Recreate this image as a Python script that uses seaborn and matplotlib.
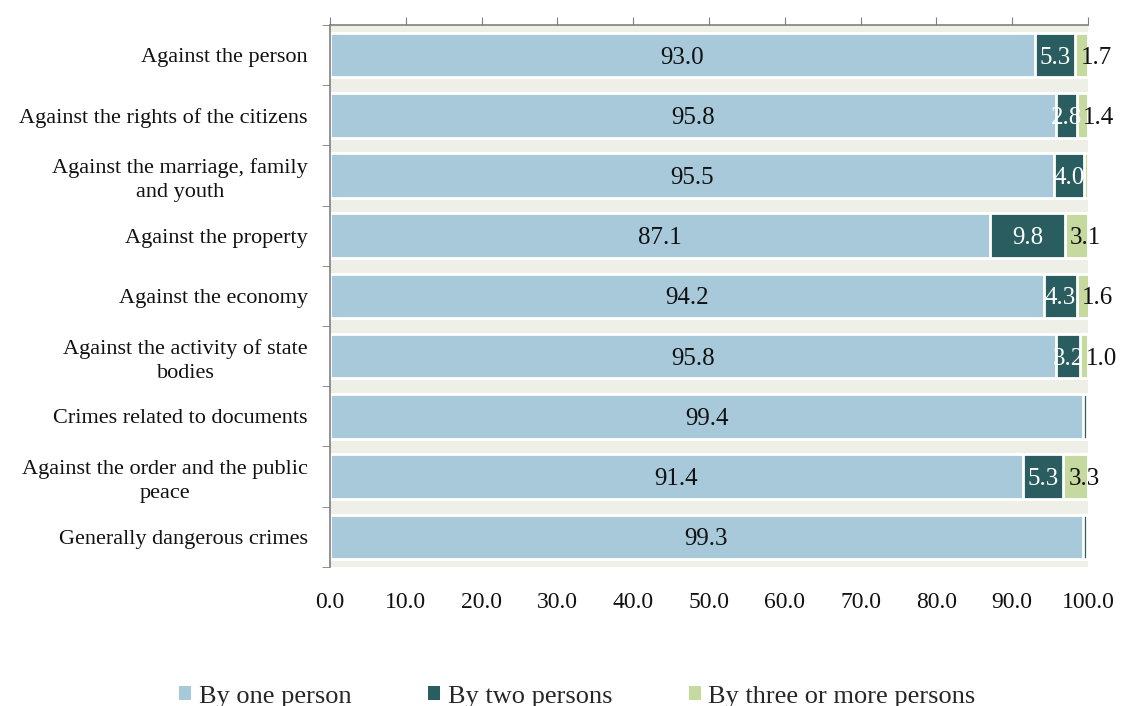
import matplotlib
matplotlib.use("Agg")
import matplotlib.pyplot as plt
import seaborn as sns
import pandas as pd
import numpy as np
from matplotlib.patches import Patch
from matplotlib.ticker import MultipleLocator, FixedLocator

categories = [
    "Against the person",
    "Against the rights of the citizens",
    "Against the marriage, family\nand youth",
    "Against the property",
    "Against the economy",
    "Against the activity of state\nbodies",
    "Crimes related to documents",
    "Against the order and the public\npeace",
    "Generally dangerous crimes",
]
one_person = [93.0, 95.8, 95.5, 87.1, 94.2, 95.8, 99.4, 91.4, 99.3]
two_persons = [5.3, 2.8, 4.0, 9.8, 4.3, 3.2, 0.4, 5.3, 0.5]
three_more = [1.7, 1.4, 0.5, 3.1, 1.6, 1.0, 0.2, 3.3, 0.2]
series_names = ["By one person", "By two persons", "By three or more persons"]
colors = ["#a7c9da", "#2a5d60", "#c6d99e"]

df = pd.DataFrame({"category": categories, "one": one_person,
                   "two": two_persons, "three": three_more})
df["cum1"] = df["one"]
df["cum2"] = df["one"] + df["two"]
df["cum3"] = df["cum2"] + df["three"]

sns.set_style("white")
plt.rcParams["font.family"] = ["Liberation Serif", "DejaVu Serif"]

fig = plt.figure(figsize=(11.21, 7.06), dpi=100)
ax = fig.add_axes([0.2944, 0.197, 0.9706 - 0.2944, 0.9646 - 0.197])
ax.set_facecolor("#eef0e7")

# stacked by drawing cumulative totals back to front
for col, c in [("cum3", colors[2]), ("cum2", colors[1]), ("cum1", colors[0])]:
    sns.barplot(data=df, x=col, y="category", color=c, orient="h",
                width=0.74, edgecolor="white", linewidth=2, ax=ax,
                saturation=1)

# value labels
for i, row in df.iterrows():
    ax.text(row["one"] / 2, i, f"{row['one']:.1f}", ha="center",
            va="center_baseline", fontsize=18, color="#111111")
    if row["two"] >= 1:
        ax.text(row["one"] + row["two"] / 2, i, f"{row['two']:.1f}",
                ha="center", va="center_baseline", fontsize=18, color="white")
    if row["three"] >= 1:
        ax.text(row["cum2"] + 0.7, i, f"{row['three']:.1f}",
                ha="left", va="center_baseline", fontsize=18, color="#111111")

ax.set_xlim(0, 100)
ax.set_ylim(len(categories) - 0.5, -0.5)
ax.xaxis.set_major_locator(MultipleLocator(10))
ax.set_xticklabels([f"{v:.1f}" for v in ax.get_xticks()])
ax.tick_params(axis="x", top=True, bottom=False, labeltop=False,
               labelbottom=True, direction="out", length=6, color="#808080",
               labelsize=17, labelcolor="#111111", pad=12)
ax.tick_params(axis="y", which="major", length=0, labelsize=16,
               labelcolor="#111111", pad=16)
ax.yaxis.set_minor_locator(FixedLocator(np.arange(-0.5, len(categories), 1)))
ax.tick_params(axis="y", which="minor", left=True, length=6,
               color="#808080", direction="out")
for lab in ax.get_yticklabels():
    lab.set_multialignment("center")
    lab.set_linespacing(1.35)
ax.set_xlabel("")
ax.set_ylabel("")

for s in ["right", "bottom"]:
    ax.spines[s].set_visible(False)
for s in ["top", "left"]:
    ax.spines[s].set_color("#808080")
    ax.spines[s].set_linewidth(1.2)

handles = [Patch(facecolor=c, edgecolor="none") for c in colors]
fig.legend(handles, series_names, loc="lower center",
           bbox_to_anchor=(0.515, -0.036), ncol=3, frameon=False,
           fontsize=19, handlelength=0.45, handleheight=0.45,
           handletextpad=0.3, columnspacing=2.9)

fig.savefig("out.png", dpi=100)
